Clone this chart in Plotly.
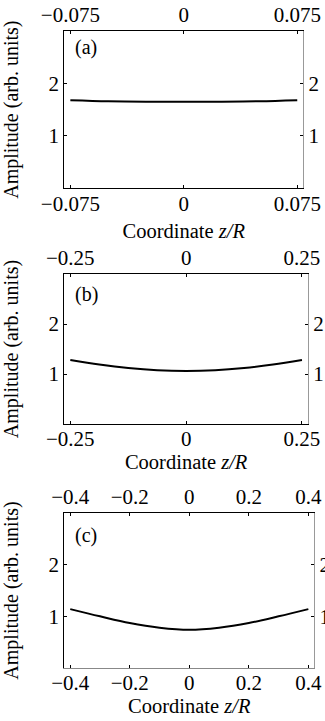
import plotly.graph_objects as go

# ---- data ----
z_a = [-0.075, -0.05, -0.025, 0.0, 0.025, 0.05, 0.075]
amp_a = [1.68, 1.66, 1.65, 1.65, 1.65, 1.66, 1.68]
ticks_a = [-0.075, 0, 0.075]

z_b = [-0.25, -0.1875, -0.125, -0.0625, 0.0, 0.0625, 0.125, 0.1875, 0.25]
amp_b = [1.28, 1.19, 1.12, 1.075, 1.06, 1.075, 1.12, 1.19, 1.28]
ticks_b = [-0.25, 0, 0.25]

z_c = [-0.4, -0.3, -0.2, -0.1, 0.0, 0.1, 0.2, 0.3, 0.4]
amp_c = [1.14, 1.0, 0.87, 0.78, 0.74, 0.78, 0.87, 1.0, 1.14]
ticks_c = [-0.4, -0.2, 0, 0.2, 0.4]

y_ticks = [1, 2]
labels = ["(a)", "(b)", "(c)"]

W, H = 325, 721
FONT = "'Liberation Serif', 'Times New Roman', Times, serif"

# layout in pixels: (x0, x1, ytop, ybottom, xrange half-width, label y, bottom line color, x-title standoff)
geom = [
    (64.3, 303.3, 31.0, 188.3, 0.079, 2.69, "black", 9),
    (64.3, 308.0, 274.0, 424.0, 0.263, 2.60, "black", 0),
    (64.3, 314.3, 513.0, 668.0, 0.42, 2.57, "#888888", 0),
]
data = [(z_a, amp_a, ticks_a), (z_b, amp_b, ticks_b), (z_c, amp_c, ticks_c)]

fig = go.Figure()
layout = dict(
    width=W, height=H, margin=dict(l=0, r=0, t=0, b=0, autoexpand=False),
    paper_bgcolor="white", plot_bgcolor="white", showlegend=False,
    font=dict(family=FONT, size=21, color="black"),
)
annotations = []

for i, ((z, amp, xt), (x0, x1, yt, yb, xr, ly, bcol, xso)) in enumerate(zip(data, geom)):
    n = i + 1
    s = "" if n == 1 else str(n)
    fig.add_trace(go.Scatter(x=z, y=amp, xaxis="x" + s, yaxis="y" + s, mode="lines",
                             line=dict(color="black", width=2, shape="spline"),
                             hoverinfo="skip"))
    fig.add_trace(go.Scatter(x=z, y=amp, xaxis=f"x{n+3}", yaxis=f"y{n+3}", mode="lines",
                             line=dict(color="rgba(0,0,0,0)", width=0),
                             hoverinfo="skip"))
    xdom = [x0 / W, x1 / W]
    ydom = [1 - yb / H, 1 - yt / H]
    common_x = dict(range=[-xr, xr], tickvals=xt, showgrid=False, zeroline=False,
                    ticks="inside", ticklen=3, tickwidth=1, tickcolor="black",
                    showline=True, linewidth=1, automargin=False,
                    tickfont=dict(family=FONT, size=21, color="black"))
    common_y = dict(range=[0, 3], tickvals=y_ticks, showgrid=False, zeroline=False,
                    ticks="inside", ticklen=3, tickwidth=1, tickcolor="black",
                    showline=True, linewidth=1, automargin=False,
                    tickfont=dict(family=FONT, size=21, color="black"))
    layout["xaxis" + s] = dict(common_x, domain=xdom, anchor="y" + s, side="bottom",
                               linecolor=bcol, ticklabelstandoff=-4,
                               title=dict(text="Coordinate <i>z/R</i>", standoff=xso,
                                          font=dict(family=FONT, size=20.5)))
    layout[f"xaxis{n+3}"] = dict(common_x, overlaying="x" + s, anchor="y" + s, side="top",
                                 linecolor="black")
    layout["yaxis" + s] = dict(common_y, domain=ydom, anchor="x" + s, side="left",
                               linecolor="black",
                               title=dict(text="Amplitude (arb. units)", standoff=27,
                                          font=dict(family=FONT, size=20)))
    layout[f"yaxis{n+3}"] = dict(common_y, overlaying="y" + s, anchor="x" + s, side="right",
                                 linecolor="#999999", ticklabelstandoff=0)
    annotations.append(dict(text=labels[i], xref=f"x{s} domain", yref="y" + s,
                            x=0.035, y=ly, xanchor="left", yanchor="middle",
                            showarrow=False, font=dict(family=FONT, size=20)))

layout["annotations"] = annotations
fig.update_layout(**layout)
fig.write_html("out.html")
